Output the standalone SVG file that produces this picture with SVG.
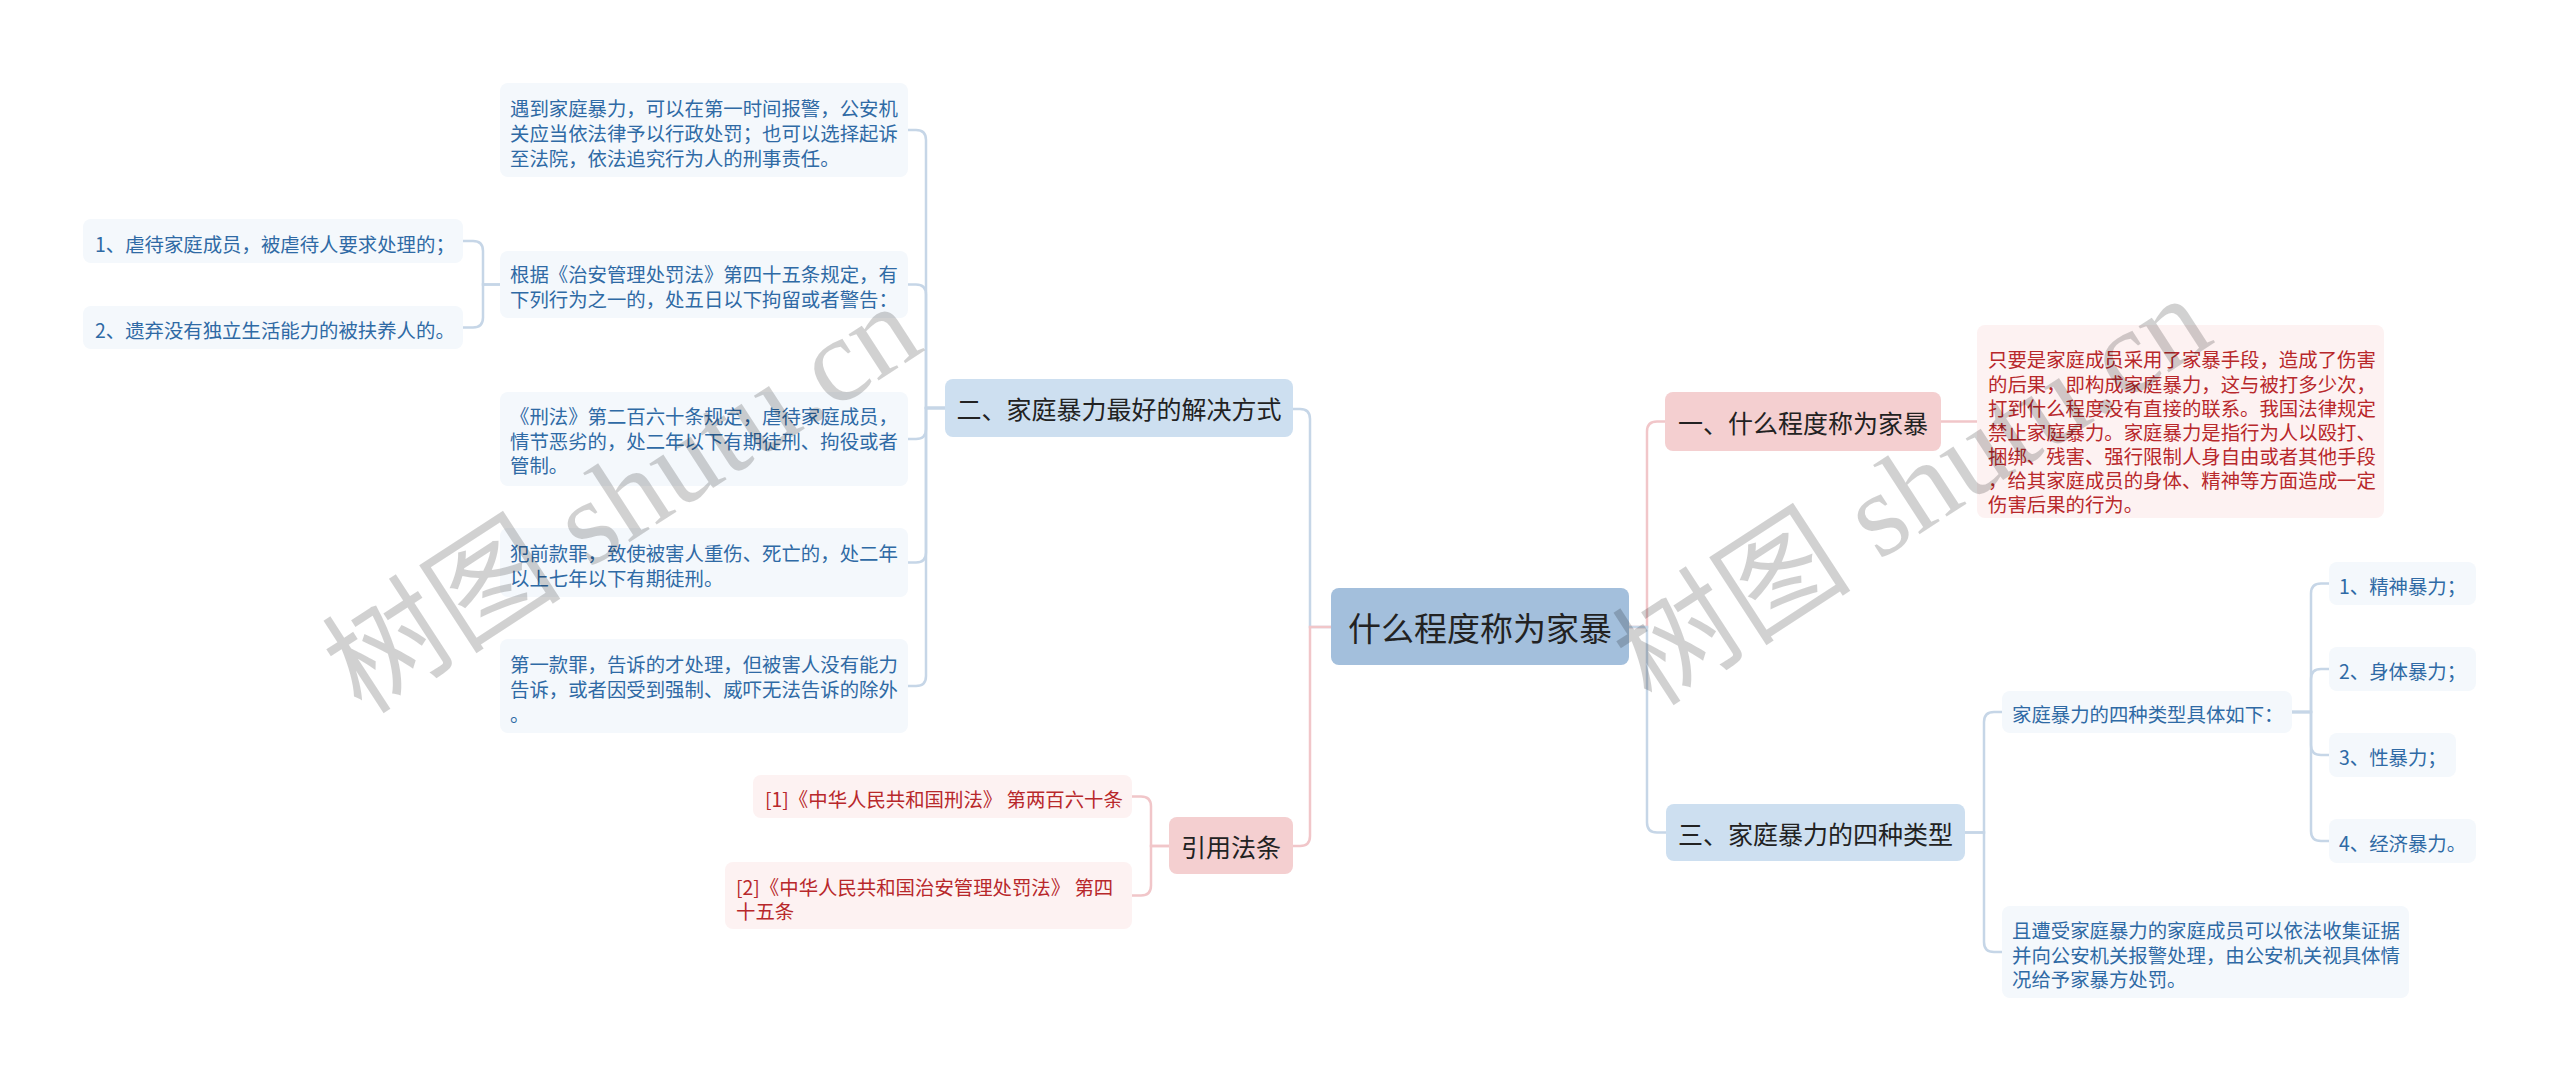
<svg xmlns="http://www.w3.org/2000/svg" width="2560" height="1083" viewBox="0 0 2560 1083">
<style>
text{font-family:"Noto Sans CJK SC","Noto Sans",sans-serif;dominant-baseline:central}
.leaf{fill:#f4f8fc}
.leafp{fill:#fdf2f2}
.lt{font-size:19.4px;fill:#2f6aa5}
.rt{font-size:19.4px;fill:#b8282b}
.l1b{fill:#cddff0}
.l1p{fill:#f4cfd0}
.l1t{font-size:25px;fill:#222}
.root{fill:#a3bfdc}
.rtt{font-size:33px;fill:#222}
.cb{fill:none;stroke:#c6d6e7;stroke-width:2.5}
.cp{fill:none;stroke:#f1c6c9;stroke-width:2.5}
.wm{font-family:"Liberation Serif","Noto Sans CJK SC",serif;font-size:120px;fill:#000;fill-opacity:0.18;dominant-baseline:alphabetic}
</style>
<g id="connectors">
<path class="cb" d="M1331,627 H1310 V419 Q1310,409 1300,409 H1293"/>
<path class="cp" d="M1331,627 H1310 V836 Q1310,846 1300,846 H1293"/>
<path class="cp" d="M1629,627 H1647 V431.5 Q1647,421.5 1657,421.5 H1665"/>
<path class="cb" d="M1629,627 H1647 V822.5 Q1647,832.5 1657,832.5 H1666"/>
<path class="cb" d="M945,408 H926 V140 Q926,130 916,130 H908"/>
<path class="cb" d="M945,408 H926 V294.5 Q926,284.5 916,284.5 H908"/>
<path class="cb" d="M945,408 H926 V429 Q926,439 916,439 H908"/>
<path class="cb" d="M945,408 H926 V552.5 Q926,562.5 916,562.5 H908"/>
<path class="cb" d="M945,408 H926 V676 Q926,686 916,686 H908"/>
<path class="cb" d="M500,284.5 H483 V251 Q483,241 473,241 H463"/>
<path class="cb" d="M500,284.5 H483 V317.5 Q483,327.5 473,327.5 H463"/>
<path class="cp" d="M1169,846 H1151 V806.5 Q1151,796.5 1141,796.5 H1132"/>
<path class="cp" d="M1169,846 H1151 V885.5 Q1151,895.5 1141,895.5 H1132"/>
<path class="cp" d="M1941,421.5 H1977"/>
<path class="cb" d="M1965,832.5 H1984 V722 Q1984,712 1994,712 H2002"/>
<path class="cb" d="M1965,832.5 H1984 V942 Q1984,952 1994,952 H2002"/>
<path class="cb" d="M2292,712 H2311 V593.5 Q2311,583.5 2321,583.5 H2329"/>
<path class="cb" d="M2292,712 H2311 V679 Q2311,669 2321,669 H2329"/>
<path class="cb" d="M2292,712 H2311 V745 Q2311,755 2321,755 H2329"/>
<path class="cb" d="M2292,712 H2311 V831 Q2311,841 2321,841 H2329"/>
</g>
<g id="root">
<rect class="root" x="1331" y="588" width="298" height="77" rx="8"/>
<text class="rtt" x="1480" y="627" text-anchor="middle">什么程度称为家暴</text>
</g>
<g id="n2">
<rect class="l1b" x="945" y="379" width="348" height="58" rx="8"/>
<text class="l1t" x="1119" y="408" text-anchor="middle">二、家庭暴力最好的解决方式</text>
</g>
<g id="n2-1">
<rect class="leaf" x="500" y="83" width="408" height="94" rx="8"/>
<text class="lt" x="510"><tspan x="510" y="107">遇到家庭暴力，可以在第一时间报警，公安机</tspan><tspan x="510" y="132">关应当依法律予以行政处罚；也可以选择起诉</tspan><tspan x="510" y="157">至法院，依法追究行为人的刑事责任。</tspan></text>
</g>
<g id="n2-2">
<rect class="leaf" x="500" y="251" width="408" height="67" rx="8"/>
<text class="lt" x="510"><tspan x="510" y="273">根据《治安管理处罚法》第四十五条规定，有</tspan><tspan x="510" y="298">下列行为之一的，处五日以下拘留或者警告：</tspan></text>
</g>
<g id="n2-2-1">
<rect class="leaf" x="83" y="219" width="380" height="44" rx="8"/>
<text class="lt" x="95" y="243">1、虐待家庭成员，被虐待人要求处理的；</text>
</g>
<g id="n2-2-2">
<rect class="leaf" x="83" y="306" width="380" height="43" rx="8"/>
<text class="lt" x="95" y="329">2、遗弃没有独立生活能力的被扶养人的。</text>
</g>
<g id="n2-3">
<rect class="leaf" x="500" y="392" width="408" height="94" rx="8"/>
<text class="lt" x="510"><tspan x="510" y="415">《刑法》第二百六十条规定，虐待家庭成员，</tspan><tspan x="510" y="440">情节恶劣的，处二年以下有期徒刑、拘役或者</tspan><tspan x="510" y="464">管制。</tspan></text>
</g>
<g id="n2-4">
<rect class="leaf" x="500" y="528" width="408" height="69" rx="8"/>
<text class="lt" x="510"><tspan x="510" y="552">犯前款罪，致使被害人重伤、死亡的，处二年</tspan><tspan x="510" y="577">以上七年以下有期徒刑。</tspan></text>
</g>
<g id="n2-5">
<rect class="leaf" x="500" y="639" width="408" height="94" rx="8"/>
<text class="lt" x="510"><tspan x="510" y="663">第一款罪，告诉的才处理，但被害人没有能力</tspan><tspan x="510" y="688">告诉，或者因受到强制、威吓无法告诉的除外</tspan><tspan x="510" y="713">。</tspan></text>
</g>
<g id="n4">
<rect class="l1p" x="1169" y="817" width="124" height="57" rx="8"/>
<text class="l1t" x="1231" y="846" text-anchor="middle">引用法条</text>
</g>
<g id="n4-1">
<rect class="leafp" x="753" y="775" width="379" height="43" rx="8"/>
<text class="rt" x="765" y="798">[1]《中华人民共和国刑法》 第两百六十条</text>
</g>
<g id="n4-2">
<rect class="leafp" x="725" y="862" width="407" height="67" rx="8"/>
<text class="rt" x="736"><tspan x="736" y="886">[2]《中华人民共和国治安管理处罚法》 第四</tspan><tspan x="736" y="910">十五条</tspan></text>
</g>
<g id="n1">
<rect class="l1p" x="1665" y="392" width="276" height="59" rx="8"/>
<text class="l1t" x="1803" y="422" text-anchor="middle">一、什么程度称为家暴</text>
</g>
<g id="n1-1">
<rect class="leafp" x="1977" y="325" width="407" height="193" rx="8"/>
<text class="rt" x="1988"><tspan x="1988" y="358">只要是家庭成员采用了家暴手段，造成了伤害</tspan><tspan x="1988" y="383">的后果，即构成家庭暴力，这与被打多少次，</tspan><tspan x="1988" y="407">打到什么程度没有直接的联系。我国法律规定</tspan><tspan x="1988" y="431">禁止家庭暴力。家庭暴力是指行为人以殴打、</tspan><tspan x="1988" y="455">捆绑、残害、强行限制人身自由或者其他手段</tspan><tspan x="1988" y="479">，给其家庭成员的身体、精神等方面造成一定</tspan><tspan x="1988" y="503">伤害后果的行为。</tspan></text>
</g>
<g id="n3">
<rect class="l1b" x="1666" y="804" width="299" height="57" rx="8"/>
<text class="l1t" x="1815.5" y="833" text-anchor="middle">三、家庭暴力的四种类型</text>
</g>
<g id="n3-1">
<rect class="leaf" x="2002" y="691" width="290" height="42" rx="8"/>
<text class="lt" x="2012" y="713">家庭暴力的四种类型具体如下：</text>
</g>
<g id="n3-1-1">
<rect class="leaf" x="2329" y="562" width="147" height="43" rx="8"/>
<text class="lt" x="2339" y="585">1、精神暴力；</text>
</g>
<g id="n3-1-2">
<rect class="leaf" x="2329" y="647" width="147" height="44" rx="8"/>
<text class="lt" x="2339" y="670">2、身体暴力；</text>
</g>
<g id="n3-1-3">
<rect class="leaf" x="2329" y="733" width="127" height="44" rx="8"/>
<text class="lt" x="2339" y="756">3、性暴力；</text>
</g>
<g id="n3-1-4">
<rect class="leaf" x="2329" y="819" width="147" height="44" rx="8"/>
<text class="lt" x="2339" y="842">4、经济暴力。</text>
</g>
<g id="n3-2">
<rect class="leaf" x="2002" y="906" width="407" height="92" rx="8"/>
<text class="lt" x="2012"><tspan x="2012" y="929">且遭受家庭暴力的家庭成员可以依法收集证据</tspan><tspan x="2012" y="954">并向公安机关报警处理，由公安机关视具体情</tspan><tspan x="2012" y="978">况给予家暴方处罚。</tspan></text>
</g>
<g id="watermarks">
<text class="wm" transform="translate(362,716) rotate(-33)">树图 shutu.cn</text>
<text class="wm" transform="translate(1652,708) rotate(-33)">树图 shutu.cn</text>
</g>
</svg>
